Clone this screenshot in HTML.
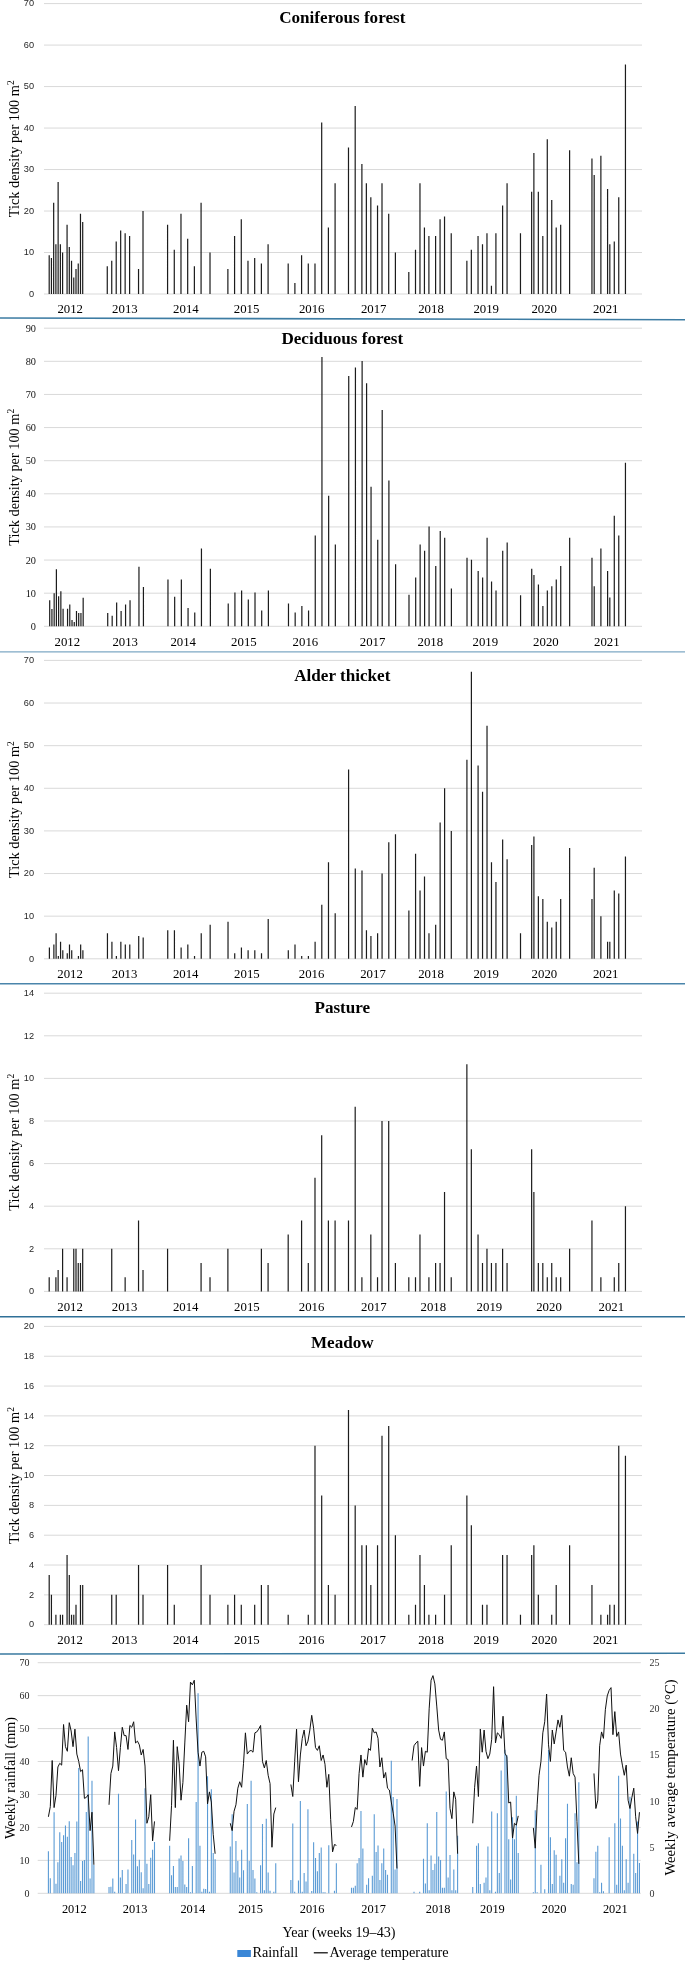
<!DOCTYPE html>
<html><head><meta charset="utf-8"><title>Tick density</title>
<style>html,body{margin:0;padding:0;background:#fff;}body{width:685px;height:1961px;overflow:hidden;}svg{display:block;will-change:transform;}</style>
</head><body>
<svg width="685" height="1961" viewBox="0 0 685 1961"><rect width="685" height="1961" fill="#fff"/><path d="M44 294H642 M44 252.51H642 M44 211.03H642 M44 169.54H642 M44 128.06H642 M44 86.57H642 M44 45.09H642 M44 3.6H642" stroke="#d9d9d9" stroke-width="1" fill="none"/><g font-family="'Liberation Sans', sans-serif" font-size="9.2" fill="#262626" text-anchor="end"><text x="34.0" y="296.79">0</text><text x="34.0" y="255.31">10</text><text x="34.0" y="213.82">20</text><text x="34.0" y="172.34">30</text><text x="34.0" y="130.85">40</text><text x="34.0" y="89.37">50</text><text x="34.0" y="47.88">60</text><text x="34.0" y="6.39">70</text></g><path d="M48.6 255.29h1.2V294h-1.2zM50.83 258.03h1.2V294h-1.2zM53.07 202.73h1.2V294h-1.2zM55.3 244.22h1.2V294h-1.2zM57.53 181.99h1.2V294h-1.2zM59.77 244.22h1.2V294h-1.2zM62 252.51h1.2V294h-1.2zM66.47 224.84h1.2V294h-1.2zM68.7 247h1.2V294h-1.2zM70.94 260.81h1.2V294h-1.2zM73.17 277.41h1.2V294h-1.2zM75.4 269.11h1.2V294h-1.2zM77.64 263.59h1.2V294h-1.2zM79.87 213.81h1.2V294h-1.2zM82.1 222.11h1.2V294h-1.2zM106.67 266.33h1.2V294h-1.2zM111.14 260.81h1.2V294h-1.2zM115.61 241.44h1.2V294h-1.2zM120.07 230.4h1.2V294h-1.2zM124.54 233.14h1.2V294h-1.2zM129.01 235.92h1.2V294h-1.2zM137.94 269.11h1.2V294h-1.2zM142.41 211.03h1.2V294h-1.2zM166.98 224.84h1.2V294h-1.2zM173.68 249.73h1.2V294h-1.2zM180.38 213.81h1.2V294h-1.2zM187.08 238.7h1.2V294h-1.2zM193.78 266.33h1.2V294h-1.2zM200.48 202.73h1.2V294h-1.2zM209.41 252.51h1.2V294h-1.2zM227.28 269.11h1.2V294h-1.2zM233.98 235.92h1.2V294h-1.2zM240.68 219.33h1.2V294h-1.2zM247.38 260.81h1.2V294h-1.2zM254.08 258.03h1.2V294h-1.2zM260.79 263.59h1.2V294h-1.2zM267.49 244.22h1.2V294h-1.2zM287.59 263.59h1.2V294h-1.2zM294.29 282.92h1.2V294h-1.2zM300.99 255.29h1.2V294h-1.2zM307.69 263.59h1.2V294h-1.2zM314.39 263.59h1.2V294h-1.2zM321.09 122.54h1.2V294h-1.2zM327.79 227.62h1.2V294h-1.2zM334.49 183.36h1.2V294h-1.2zM347.89 147.43h1.2V294h-1.2zM354.59 105.95h1.2V294h-1.2zM361.29 164.03h1.2V294h-1.2zM365.76 183.36h1.2V294h-1.2zM370.23 197.21h1.2V294h-1.2zM376.93 205.51h1.2V294h-1.2zM381.4 183.36h1.2V294h-1.2zM388.1 213.81h1.2V294h-1.2zM394.8 252.51h1.2V294h-1.2zM408.2 271.89h1.2V294h-1.2zM414.9 249.73h1.2V294h-1.2zM419.37 183.36h1.2V294h-1.2zM423.83 227.62h1.2V294h-1.2zM428.3 235.92h1.2V294h-1.2zM435 235.92h1.2V294h-1.2zM439.47 219.33h1.2V294h-1.2zM443.93 216.55h1.2V294h-1.2zM450.63 233.14h1.2V294h-1.2zM466.27 260.81h1.2V294h-1.2zM470.74 249.73h1.2V294h-1.2zM477.44 235.92h1.2V294h-1.2zM481.9 244.22h1.2V294h-1.2zM486.37 233.14h1.2V294h-1.2zM490.84 285.7h1.2V294h-1.2zM495.31 233.14h1.2V294h-1.2zM502.01 205.51h1.2V294h-1.2zM506.47 183.36h1.2V294h-1.2zM519.87 233.14h1.2V294h-1.2zM531.04 191.65h1.2V294h-1.2zM533.28 152.95h1.2V294h-1.2zM537.74 191.65h1.2V294h-1.2zM542.21 235.92h1.2V294h-1.2zM546.68 139.13h1.2V294h-1.2zM551.14 199.95h1.2V294h-1.2zM555.61 227.62h1.2V294h-1.2zM560.08 224.84h1.2V294h-1.2zM569.01 150.17h1.2V294h-1.2zM591.35 158.47h1.2V294h-1.2zM593.58 175.06h1.2V294h-1.2zM600.28 155.73h1.2V294h-1.2zM606.98 188.92h1.2V294h-1.2zM609.22 244.22h1.2V294h-1.2zM613.68 241.44h1.2V294h-1.2zM618.15 197.21h1.2V294h-1.2zM624.85 64.46h1.2V294h-1.2z" fill="#1c1c1c"/><text x="342.3" y="22.8" font-family="'Liberation Serif', serif" font-weight="bold" font-size="17.1" text-anchor="middle" fill="#000">Coniferous forest</text><text transform="translate(18.7 148.8) rotate(-90)" font-family="'Liberation Serif', serif" font-size="14.3" text-anchor="middle" fill="#000">Tick density per 100 m<tspan font-size="9.5" dy="-5">2</tspan></text><g font-family="'Liberation Serif', serif" font-size="12.8" text-anchor="middle" fill="#000"><text x="70.2" y="313.2">2012</text><text x="124.9" y="313.2">2013</text><text x="185.9" y="313.2">2014</text><text x="246.6" y="313.2">2015</text><text x="311.7" y="313.2">2016</text><text x="373.7" y="313.2">2017</text><text x="431.0" y="313.2">2018</text><text x="486.2" y="313.2">2019</text><text x="544.2" y="313.2">2020</text><text x="605.7" y="313.2">2021</text></g><path d="M44 626.3H642 M44 593.18H642 M44 560.06H642 M44 526.93H642 M44 493.81H642 M44 460.69H642 M44 427.57H642 M44 394.44H642 M44 361.32H642 M44 328.2H642" stroke="#d9d9d9" stroke-width="1" fill="none"/><g font-family="'Liberation Serif', serif" font-size="10.3" fill="#111" text-anchor="end"><text x="36.0" y="629.78">0</text><text x="36.0" y="596.66">10</text><text x="36.0" y="563.54">20</text><text x="36.0" y="530.41">30</text><text x="36.0" y="497.29">40</text><text x="36.0" y="464.17">50</text><text x="36.0" y="431.05">60</text><text x="36.0" y="397.93">70</text><text x="36.0" y="364.8">80</text><text x="36.0" y="331.68">90</text></g><path d="M49.1 600.13h1.2V626.3h-1.2zM51.33 609.08h1.2V626.3h-1.2zM53.56 593.18h1.2V626.3h-1.2zM55.79 569.33h1.2V626.3h-1.2zM58.03 596.16h1.2V626.3h-1.2zM60.26 591.19h1.2V626.3h-1.2zM62.49 608.75h1.2V626.3h-1.2zM66.95 608.75h1.2V626.3h-1.2zM69.18 604.44h1.2V626.3h-1.2zM71.42 620.01h1.2V626.3h-1.2zM73.65 621.99h1.2V626.3h-1.2zM75.88 611.06h1.2V626.3h-1.2zM78.11 613.05h1.2V626.3h-1.2zM80.34 613.05h1.2V626.3h-1.2zM82.57 597.81h1.2V626.3h-1.2zM107.12 613.05h1.2V626.3h-1.2zM111.58 615.7h1.2V626.3h-1.2zM116.05 602.45h1.2V626.3h-1.2zM120.51 611.06h1.2V626.3h-1.2zM124.97 604.44h1.2V626.3h-1.2zM129.44 600.13h1.2V626.3h-1.2zM138.36 566.68h1.2V626.3h-1.2zM142.83 586.88h1.2V626.3h-1.2zM167.37 579.6h1.2V626.3h-1.2zM174.07 596.82h1.2V626.3h-1.2zM180.76 579.6h1.2V626.3h-1.2zM187.46 608.08h1.2V626.3h-1.2zM194.15 612.39h1.2V626.3h-1.2zM200.85 548.46h1.2V626.3h-1.2zM209.77 568.67h1.2V626.3h-1.2zM227.63 603.45h1.2V626.3h-1.2zM234.32 592.52h1.2V626.3h-1.2zM241.02 590.53h1.2V626.3h-1.2zM247.71 599.47h1.2V626.3h-1.2zM254.41 592.52h1.2V626.3h-1.2zM261.1 610.4h1.2V626.3h-1.2zM267.8 590.53h1.2V626.3h-1.2zM287.88 603.45h1.2V626.3h-1.2zM294.57 612.39h1.2V626.3h-1.2zM301.27 606.1h1.2V626.3h-1.2zM307.96 610.4h1.2V626.3h-1.2zM314.66 535.55h1.2V626.3h-1.2zM321.35 357.02h1.2V626.3h-1.2zM328.05 495.8h1.2V626.3h-1.2zM334.74 544.49h1.2V626.3h-1.2zM348.13 375.9h1.2V626.3h-1.2zM354.83 367.62h1.2V626.3h-1.2zM361.52 360.99h1.2V626.3h-1.2zM365.99 383.18h1.2V626.3h-1.2zM370.45 486.86h1.2V626.3h-1.2zM377.14 539.85h1.2V626.3h-1.2zM381.61 410.01h1.2V626.3h-1.2zM388.3 480.56h1.2V626.3h-1.2zM395 564.36h1.2V626.3h-1.2zM408.39 594.83h1.2V626.3h-1.2zM415.08 577.61h1.2V626.3h-1.2zM419.54 544.49h1.2V626.3h-1.2zM424.01 550.78h1.2V626.3h-1.2zM428.47 526.6h1.2V626.3h-1.2zM435.16 566.02h1.2V626.3h-1.2zM439.63 530.91h1.2V626.3h-1.2zM444.09 537.86h1.2V626.3h-1.2zM450.79 588.54h1.2V626.3h-1.2zM466.41 557.74h1.2V626.3h-1.2zM470.87 559.72h1.2V626.3h-1.2zM477.57 570.99h1.2V626.3h-1.2zM482.03 577.61h1.2V626.3h-1.2zM486.49 537.86h1.2V626.3h-1.2zM490.95 581.58h1.2V626.3h-1.2zM495.42 590.53h1.2V626.3h-1.2zM502.11 550.78h1.2V626.3h-1.2zM506.58 542.5h1.2V626.3h-1.2zM519.97 595.17h1.2V626.3h-1.2zM531.12 568.67h1.2V626.3h-1.2zM533.35 574.96h1.2V626.3h-1.2zM537.82 584.57h1.2V626.3h-1.2zM542.28 606.1h1.2V626.3h-1.2zM546.74 590.53h1.2V626.3h-1.2zM551.21 586.22h1.2V626.3h-1.2zM555.67 579.6h1.2V626.3h-1.2zM560.13 566.02h1.2V626.3h-1.2zM569.06 537.86h1.2V626.3h-1.2zM591.38 557.74h1.2V626.3h-1.2zM593.61 586.22h1.2V626.3h-1.2zM600.3 548.46h1.2V626.3h-1.2zM607 570.99h1.2V626.3h-1.2zM609.23 597.48h1.2V626.3h-1.2zM613.69 515.67h1.2V626.3h-1.2zM618.16 535.55h1.2V626.3h-1.2zM624.85 462.68h1.2V626.3h-1.2z" fill="#1c1c1c"/><text x="342.3" y="344.0" font-family="'Liberation Serif', serif" font-weight="bold" font-size="17.1" text-anchor="middle" fill="#000">Deciduous forest</text><text transform="translate(18.7 477.25) rotate(-90)" font-family="'Liberation Serif', serif" font-size="14.3" text-anchor="middle" fill="#000">Tick density per 100 m<tspan font-size="9.5" dy="-5">2</tspan></text><g font-family="'Liberation Serif', serif" font-size="12.8" text-anchor="middle" fill="#000"><text x="67.3" y="645.6">2012</text><text x="125.2" y="645.6">2013</text><text x="183.2" y="645.6">2014</text><text x="243.9" y="645.6">2015</text><text x="305.4" y="645.6">2016</text><text x="372.6" y="645.6">2017</text><text x="430.3" y="645.6">2018</text><text x="485.3" y="645.6">2019</text><text x="545.9" y="645.6">2020</text><text x="606.8" y="645.6">2021</text></g><path d="M44 958.8H642 M44 916.17H642 M44 873.54H642 M44 830.91H642 M44 788.29H642 M44 745.66H642 M44 703.03H642 M44 660.4H642" stroke="#d9d9d9" stroke-width="1" fill="none"/><g font-family="'Liberation Sans', sans-serif" font-size="9.2" fill="#262626" text-anchor="end"><text x="34.0" y="961.59">0</text><text x="34.0" y="918.97">10</text><text x="34.0" y="876.34">20</text><text x="34.0" y="833.71">30</text><text x="34.0" y="791.08">40</text><text x="34.0" y="748.45">50</text><text x="34.0" y="705.82">60</text><text x="34.0" y="663.19">70</text></g><path d="M48.8 947.42h1.2V958.8h-1.2zM53.27 944.6h1.2V958.8h-1.2zM55.5 933.22h1.2V958.8h-1.2zM57.73 955.94h1.2V958.8h-1.2zM59.96 941.75h1.2V958.8h-1.2zM62.2 950.27h1.2V958.8h-1.2zM66.66 953.13h1.2V958.8h-1.2zM68.89 944.6h1.2V958.8h-1.2zM71.13 950.27h1.2V958.8h-1.2zM77.83 955.94h1.2V958.8h-1.2zM80.06 944.6h1.2V958.8h-1.2zM82.29 950.27h1.2V958.8h-1.2zM106.85 933.22h1.2V958.8h-1.2zM111.32 941.75h1.2V958.8h-1.2zM115.78 955.94h1.2V958.8h-1.2zM120.25 941.75h1.2V958.8h-1.2zM124.71 944.6h1.2V958.8h-1.2zM129.18 944.6h1.2V958.8h-1.2zM138.11 936.08h1.2V958.8h-1.2zM142.58 937.49h1.2V958.8h-1.2zM167.14 930.37h1.2V958.8h-1.2zM173.83 930.37h1.2V958.8h-1.2zM180.53 947.42h1.2V958.8h-1.2zM187.23 944.6h1.2V958.8h-1.2zM193.93 955.94h1.2V958.8h-1.2zM200.63 933.22h1.2V958.8h-1.2zM209.56 924.7h1.2V958.8h-1.2zM227.42 921.84h1.2V958.8h-1.2zM234.12 953.13h1.2V958.8h-1.2zM240.82 947.42h1.2V958.8h-1.2zM247.51 950.27h1.2V958.8h-1.2zM254.21 950.27h1.2V958.8h-1.2zM260.91 953.13h1.2V958.8h-1.2zM267.61 919.03h1.2V958.8h-1.2zM287.7 950.27h1.2V958.8h-1.2zM294.4 944.6h1.2V958.8h-1.2zM301.1 955.94h1.2V958.8h-1.2zM307.8 955.94h1.2V958.8h-1.2zM314.5 941.75h1.2V958.8h-1.2zM321.2 904.79h1.2V958.8h-1.2zM327.89 862.16h1.2V958.8h-1.2zM334.59 913.32h1.2V958.8h-1.2zM347.99 769.53h1.2V958.8h-1.2zM354.69 868.43h1.2V958.8h-1.2zM361.39 870.56h1.2V958.8h-1.2zM365.85 930.37h1.2V958.8h-1.2zM370.32 936.08h1.2V958.8h-1.2zM377.01 933.22h1.2V958.8h-1.2zM381.48 873.54h1.2V958.8h-1.2zM388.18 842.3h1.2V958.8h-1.2zM394.88 834.32h1.2V958.8h-1.2zM408.27 910.5h1.2V958.8h-1.2zM414.97 853.64h1.2V958.8h-1.2zM419.44 890.59h1.2V958.8h-1.2zM423.9 876.4h1.2V958.8h-1.2zM428.37 933.22h1.2V958.8h-1.2zM435.07 924.7h1.2V958.8h-1.2zM439.53 822.39h1.2V958.8h-1.2zM444 788.29h1.2V958.8h-1.2zM450.7 830.91h1.2V958.8h-1.2zM466.32 759.85h1.2V958.8h-1.2zM470.79 671.78h1.2V958.8h-1.2zM477.49 765.56h1.2V958.8h-1.2zM481.95 791.7h1.2V958.8h-1.2zM486.42 725.75h1.2V958.8h-1.2zM490.88 862.16h1.2V958.8h-1.2zM495.35 882.07h1.2V958.8h-1.2zM502.05 839.44h1.2V958.8h-1.2zM506.51 859.35h1.2V958.8h-1.2zM519.91 933.22h1.2V958.8h-1.2zM531.07 845.11h1.2V958.8h-1.2zM533.31 836.58h1.2V958.8h-1.2zM537.77 896.26h1.2V958.8h-1.2zM542.24 899.12h1.2V958.8h-1.2zM546.7 921.84h1.2V958.8h-1.2zM551.17 927.55h1.2V958.8h-1.2zM555.63 921.84h1.2V958.8h-1.2zM560.1 899.12h1.2V958.8h-1.2zM569.03 847.97h1.2V958.8h-1.2zM591.36 899.12h1.2V958.8h-1.2zM593.59 867.87h1.2V958.8h-1.2zM600.29 916.17h1.2V958.8h-1.2zM606.99 941.75h1.2V958.8h-1.2zM609.22 941.75h1.2V958.8h-1.2zM613.69 890.59h1.2V958.8h-1.2zM618.15 893.45h1.2V958.8h-1.2zM624.85 856.49h1.2V958.8h-1.2z" fill="#1c1c1c"/><text x="342.3" y="681.0" font-family="'Liberation Serif', serif" font-weight="bold" font-size="17.1" text-anchor="middle" fill="#000">Alder thicket</text><text transform="translate(18.7 809.6) rotate(-90)" font-family="'Liberation Serif', serif" font-size="14.3" text-anchor="middle" fill="#000">Tick density per 100 m<tspan font-size="9.5" dy="-5">2</tspan></text><g font-family="'Liberation Serif', serif" font-size="12.8" text-anchor="middle" fill="#000"><text x="70.1" y="978.0">2012</text><text x="124.6" y="978.0">2013</text><text x="185.7" y="978.0">2014</text><text x="246.9" y="978.0">2015</text><text x="311.6" y="978.0">2016</text><text x="373.0" y="978.0">2017</text><text x="431.0" y="978.0">2018</text><text x="486.2" y="978.0">2019</text><text x="544.4" y="978.0">2020</text><text x="605.7" y="978.0">2021</text></g><path d="M44 1291.4H642 M44 1248.8H642 M44 1206.2H642 M44 1163.6H642 M44 1121H642 M44 1078.4H642 M44 1035.8H642 M44 993.2H642" stroke="#d9d9d9" stroke-width="1" fill="none"/><g font-family="'Liberation Sans', sans-serif" font-size="9.2" fill="#262626" text-anchor="end"><text x="34.0" y="1294.19">0</text><text x="34.0" y="1251.59">2</text><text x="34.0" y="1208.99">4</text><text x="34.0" y="1166.39">6</text><text x="34.0" y="1123.79">8</text><text x="34.0" y="1081.19">10</text><text x="34.0" y="1038.59">12</text><text x="34.0" y="995.99">14</text></g><path d="M48.6 1277.13h1.2V1291.4h-1.2zM55.3 1277.13h1.2V1291.4h-1.2zM57.53 1270.1h1.2V1291.4h-1.2zM62 1248.8h1.2V1291.4h-1.2zM66.47 1277.13h1.2V1291.4h-1.2zM73.17 1248.8h1.2V1291.4h-1.2zM75.4 1248.8h1.2V1291.4h-1.2zM77.64 1263.07h1.2V1291.4h-1.2zM79.87 1263.07h1.2V1291.4h-1.2zM82.1 1248.8h1.2V1291.4h-1.2zM111.14 1248.8h1.2V1291.4h-1.2zM124.54 1277.13h1.2V1291.4h-1.2zM137.94 1220.47h1.2V1291.4h-1.2zM142.41 1270.1h1.2V1291.4h-1.2zM166.98 1248.8h1.2V1291.4h-1.2zM200.48 1263.07h1.2V1291.4h-1.2zM209.41 1277.13h1.2V1291.4h-1.2zM227.28 1248.8h1.2V1291.4h-1.2zM260.79 1248.8h1.2V1291.4h-1.2zM267.49 1263.07h1.2V1291.4h-1.2zM287.59 1234.53h1.2V1291.4h-1.2zM300.99 1220.47h1.2V1291.4h-1.2zM307.69 1263.07h1.2V1291.4h-1.2zM314.39 1177.87h1.2V1291.4h-1.2zM321.09 1135.27h1.2V1291.4h-1.2zM327.79 1220.47h1.2V1291.4h-1.2zM334.49 1220.47h1.2V1291.4h-1.2zM347.89 1220.47h1.2V1291.4h-1.2zM354.59 1106.73h1.2V1291.4h-1.2zM361.29 1277.13h1.2V1291.4h-1.2zM370.23 1234.53h1.2V1291.4h-1.2zM376.93 1277.13h1.2V1291.4h-1.2zM381.4 1121h1.2V1291.4h-1.2zM388.1 1121h1.2V1291.4h-1.2zM394.8 1263.07h1.2V1291.4h-1.2zM408.2 1277.13h1.2V1291.4h-1.2zM414.9 1277.13h1.2V1291.4h-1.2zM419.37 1234.53h1.2V1291.4h-1.2zM428.3 1277.13h1.2V1291.4h-1.2zM435 1263.07h1.2V1291.4h-1.2zM439.47 1263.07h1.2V1291.4h-1.2zM443.93 1191.93h1.2V1291.4h-1.2zM450.63 1277.13h1.2V1291.4h-1.2zM466.27 1064.13h1.2V1291.4h-1.2zM470.74 1149.33h1.2V1291.4h-1.2zM477.44 1234.53h1.2V1291.4h-1.2zM481.9 1263.07h1.2V1291.4h-1.2zM486.37 1248.8h1.2V1291.4h-1.2zM490.84 1263.07h1.2V1291.4h-1.2zM495.31 1263.07h1.2V1291.4h-1.2zM502.01 1248.8h1.2V1291.4h-1.2zM506.47 1263.07h1.2V1291.4h-1.2zM531.04 1149.33h1.2V1291.4h-1.2zM533.28 1191.93h1.2V1291.4h-1.2zM537.74 1263.07h1.2V1291.4h-1.2zM542.21 1263.07h1.2V1291.4h-1.2zM546.68 1277.13h1.2V1291.4h-1.2zM551.14 1263.07h1.2V1291.4h-1.2zM555.61 1277.13h1.2V1291.4h-1.2zM560.08 1277.13h1.2V1291.4h-1.2zM569.01 1248.8h1.2V1291.4h-1.2zM591.35 1220.47h1.2V1291.4h-1.2zM600.28 1277.13h1.2V1291.4h-1.2zM613.68 1277.13h1.2V1291.4h-1.2zM618.15 1263.07h1.2V1291.4h-1.2zM624.85 1206.2h1.2V1291.4h-1.2z" fill="#1c1c1c"/><text x="342.3" y="1013.0" font-family="'Liberation Serif', serif" font-weight="bold" font-size="17.1" text-anchor="middle" fill="#000">Pasture</text><text transform="translate(18.7 1142.3) rotate(-90)" font-family="'Liberation Serif', serif" font-size="14.3" text-anchor="middle" fill="#000">Tick density per 100 m<tspan font-size="9.5" dy="-5">2</tspan></text><g font-family="'Liberation Serif', serif" font-size="12.8" text-anchor="middle" fill="#000"><text x="70.1" y="1311.0">2012</text><text x="124.6" y="1311.0">2013</text><text x="185.7" y="1311.0">2014</text><text x="246.9" y="1311.0">2015</text><text x="311.6" y="1311.0">2016</text><text x="373.8" y="1311.0">2017</text><text x="433.3" y="1311.0">2018</text><text x="489.4" y="1311.0">2019</text><text x="549.0" y="1311.0">2020</text><text x="611.3" y="1311.0">2021</text></g><path d="M44 1624.7H642 M44 1594.87H642 M44 1565.04H642 M44 1535.21H642 M44 1505.38H642 M44 1475.55H642 M44 1445.72H642 M44 1415.89H642 M44 1386.06H642 M44 1356.23H642 M44 1326.4H642" stroke="#d9d9d9" stroke-width="1" fill="none"/><g font-family="'Liberation Sans', sans-serif" font-size="9.2" fill="#262626" text-anchor="end"><text x="34.0" y="1627.49">0</text><text x="34.0" y="1597.66">2</text><text x="34.0" y="1567.83">4</text><text x="34.0" y="1538">6</text><text x="34.0" y="1508.17">8</text><text x="34.0" y="1478.34">10</text><text x="34.0" y="1448.51">12</text><text x="34.0" y="1418.68">14</text><text x="34.0" y="1388.85">16</text><text x="34.0" y="1359.02">18</text><text x="34.0" y="1329.19">20</text></g><path d="M48.6 1575.03h1.2V1624.7h-1.2zM50.83 1594.87h1.2V1624.7h-1.2zM55.3 1614.71h1.2V1624.7h-1.2zM59.77 1614.71h1.2V1624.7h-1.2zM62 1614.71h1.2V1624.7h-1.2zM66.47 1555.05h1.2V1624.7h-1.2zM68.7 1575.03h1.2V1624.7h-1.2zM70.94 1614.71h1.2V1624.7h-1.2zM73.17 1614.71h1.2V1624.7h-1.2zM75.4 1604.86h1.2V1624.7h-1.2zM79.87 1584.88h1.2V1624.7h-1.2zM82.1 1584.88h1.2V1624.7h-1.2zM111.14 1594.87h1.2V1624.7h-1.2zM115.61 1594.87h1.2V1624.7h-1.2zM137.94 1565.04h1.2V1624.7h-1.2zM142.41 1594.87h1.2V1624.7h-1.2zM166.98 1565.04h1.2V1624.7h-1.2zM173.68 1604.86h1.2V1624.7h-1.2zM200.48 1565.04h1.2V1624.7h-1.2zM209.41 1594.87h1.2V1624.7h-1.2zM227.28 1604.86h1.2V1624.7h-1.2zM233.98 1594.87h1.2V1624.7h-1.2zM240.68 1604.86h1.2V1624.7h-1.2zM254.08 1604.86h1.2V1624.7h-1.2zM260.79 1584.88h1.2V1624.7h-1.2zM267.49 1584.88h1.2V1624.7h-1.2zM287.59 1614.71h1.2V1624.7h-1.2zM307.69 1614.71h1.2V1624.7h-1.2zM314.39 1445.72h1.2V1624.7h-1.2zM321.09 1495.39h1.2V1624.7h-1.2zM327.79 1584.88h1.2V1624.7h-1.2zM334.49 1594.87h1.2V1624.7h-1.2zM347.89 1409.92h1.2V1624.7h-1.2zM354.59 1505.38h1.2V1624.7h-1.2zM361.29 1545.2h1.2V1624.7h-1.2zM365.76 1545.2h1.2V1624.7h-1.2zM370.23 1584.88h1.2V1624.7h-1.2zM376.93 1545.2h1.2V1624.7h-1.2zM381.4 1435.73h1.2V1624.7h-1.2zM388.1 1425.88h1.2V1624.7h-1.2zM394.8 1535.21h1.2V1624.7h-1.2zM408.2 1614.71h1.2V1624.7h-1.2zM414.9 1604.86h1.2V1624.7h-1.2zM419.37 1555.05h1.2V1624.7h-1.2zM423.83 1584.88h1.2V1624.7h-1.2zM428.3 1614.71h1.2V1624.7h-1.2zM435 1614.71h1.2V1624.7h-1.2zM443.93 1594.87h1.2V1624.7h-1.2zM450.63 1545.2h1.2V1624.7h-1.2zM466.27 1495.39h1.2V1624.7h-1.2zM470.74 1525.22h1.2V1624.7h-1.2zM481.9 1604.86h1.2V1624.7h-1.2zM486.37 1604.86h1.2V1624.7h-1.2zM502.01 1555.05h1.2V1624.7h-1.2zM506.47 1555.05h1.2V1624.7h-1.2zM519.87 1614.71h1.2V1624.7h-1.2zM531.04 1555.05h1.2V1624.7h-1.2zM533.28 1545.2h1.2V1624.7h-1.2zM537.74 1594.87h1.2V1624.7h-1.2zM551.14 1614.71h1.2V1624.7h-1.2zM555.61 1584.88h1.2V1624.7h-1.2zM569.01 1545.2h1.2V1624.7h-1.2zM591.35 1584.88h1.2V1624.7h-1.2zM600.28 1614.71h1.2V1624.7h-1.2zM606.98 1614.71h1.2V1624.7h-1.2zM609.22 1604.86h1.2V1624.7h-1.2zM613.68 1604.86h1.2V1624.7h-1.2zM618.15 1445.72h1.2V1624.7h-1.2zM624.85 1455.71h1.2V1624.7h-1.2z" fill="#1c1c1c"/><text x="342.3" y="1347.5" font-family="'Liberation Serif', serif" font-weight="bold" font-size="17.1" text-anchor="middle" fill="#000">Meadow</text><text transform="translate(18.7 1475.55) rotate(-90)" font-family="'Liberation Serif', serif" font-size="14.3" text-anchor="middle" fill="#000">Tick density per 100 m<tspan font-size="9.5" dy="-5">2</tspan></text><g font-family="'Liberation Serif', serif" font-size="12.8" text-anchor="middle" fill="#000"><text x="70.1" y="1644.0">2012</text><text x="124.6" y="1644.0">2013</text><text x="185.7" y="1644.0">2014</text><text x="246.9" y="1644.0">2015</text><text x="311.6" y="1644.0">2016</text><text x="373.0" y="1644.0">2017</text><text x="431.0" y="1644.0">2018</text><text x="486.2" y="1644.0">2019</text><text x="544.4" y="1644.0">2020</text><text x="605.7" y="1644.0">2021</text></g><line x1="0" y1="318.0" x2="685" y2="319.7" stroke="#3d7ca3" stroke-width="1.6"/><line x1="0" y1="651.9" x2="685" y2="651.9" stroke="#7ea8c4" stroke-width="1.4"/><line x1="0" y1="983.7" x2="685" y2="983.7" stroke="#4a85ab" stroke-width="1.5"/><line x1="0" y1="1316.8" x2="685" y2="1316.8" stroke="#2f7098" stroke-width="1.5"/><line x1="0" y1="1654.0" x2="685" y2="1653.2" stroke="#3a7aa0" stroke-width="1.5"/><path d="M37.7 1893.3H640.8 M37.7 1860.36H640.8 M37.7 1827.41H640.8 M37.7 1794.47H640.8 M37.7 1761.53H640.8 M37.7 1728.59H640.8 M37.7 1695.64H640.8 M37.7 1662.7H640.8" stroke="#d9d9d9" stroke-width="1" fill="none"/><g font-family="'Liberation Serif', serif" font-size="10" fill="#262626" text-anchor="end"><text x="29.5" y="1896.7">0</text><text x="29.5" y="1863.76">10</text><text x="29.5" y="1830.81">20</text><text x="29.5" y="1797.87">30</text><text x="29.5" y="1764.93">40</text><text x="29.5" y="1731.99">50</text><text x="29.5" y="1699.04">60</text><text x="29.5" y="1666.1">70</text></g><g font-family="'Liberation Serif', serif" font-size="10" fill="#333" text-anchor="start"><text x="649.4" y="1896.8">0</text><text x="649.4" y="1850.66">5</text><text x="649.4" y="1804.52">10</text><text x="649.4" y="1758.38">15</text><text x="649.4" y="1712.24">20</text><text x="649.4" y="1666.1">25</text></g><path d="M47.85 1851.13h1.1V1893.3h-1.1zM49.75 1878.15h1.1V1893.3h-1.1zM53.54 1812.26h1.1V1893.3h-1.1zM55.43 1883.75h1.1V1893.3h-1.1zM57.33 1862.33h1.1V1893.3h-1.1zM59.22 1832.36h1.1V1893.3h-1.1zM61.12 1841.91h1.1V1893.3h-1.1zM63.01 1835.32h1.1V1893.3h-1.1zM64.91 1825.44h1.1V1893.3h-1.1zM66.8 1836.64h1.1V1893.3h-1.1zM68.7 1821.16h1.1V1893.3h-1.1zM70.59 1857.06h1.1V1893.3h-1.1zM72.48 1865.3h1.1V1893.3h-1.1zM74.38 1853.11h1.1V1893.3h-1.1zM76.28 1821.48h1.1V1893.3h-1.1zM78.17 1768.12h1.1V1893.3h-1.1zM80.07 1881.11h1.1V1893.3h-1.1zM81.96 1861.02h1.1V1893.3h-1.1zM83.86 1860.03h1.1V1893.3h-1.1zM85.75 1811.93h1.1V1893.3h-1.1zM87.64 1736.49h1.1V1893.3h-1.1zM89.54 1878.48h1.1V1893.3h-1.1zM91.44 1780.64h1.1V1893.3h-1.1zM93.33 1864.97h1.1V1893.3h-1.1zM108.47 1887.04h1.1V1893.3h-1.1zM110.36 1886.71h1.1V1893.3h-1.1zM112.26 1878.48h1.1V1893.3h-1.1zM114.16 1891.65h1.1V1893.3h-1.1zM117.94 1793.81h1.1V1893.3h-1.1zM119.84 1877.49h1.1V1893.3h-1.1zM121.73 1869.91h1.1V1893.3h-1.1zM123.63 1892.97h1.1V1893.3h-1.1zM125.52 1884.08h1.1V1893.3h-1.1zM127.42 1869.58h1.1V1893.3h-1.1zM131.21 1839.93h1.1V1893.3h-1.1zM133.1 1854.43h1.1V1893.3h-1.1zM135 1819.51h1.1V1893.3h-1.1zM136.89 1866.29h1.1V1893.3h-1.1zM138.79 1859.7h1.1V1893.3h-1.1zM140.69 1872.22h1.1V1893.3h-1.1zM142.58 1888.36h1.1V1893.3h-1.1zM144.47 1788.21h1.1V1893.3h-1.1zM146.37 1863.65h1.1V1893.3h-1.1zM148.26 1884.08h1.1V1893.3h-1.1zM150.16 1857.72h1.1V1893.3h-1.1zM152.05 1849.82h1.1V1893.3h-1.1zM153.95 1841.91h1.1V1893.3h-1.1zM169.09 1845.86h1.1V1893.3h-1.1zM170.98 1875.18h1.1V1893.3h-1.1zM172.88 1865.96h1.1V1893.3h-1.1zM174.77 1887.04h1.1V1893.3h-1.1zM176.67 1887.04h1.1V1893.3h-1.1zM178.56 1858.38h1.1V1893.3h-1.1zM180.46 1855.42h1.1V1893.3h-1.1zM182.35 1861.02h1.1V1893.3h-1.1zM184.25 1884.41h1.1V1893.3h-1.1zM186.14 1887.04h1.1V1893.3h-1.1zM188.04 1838.29h1.1V1893.3h-1.1zM189.93 1892.31h1.1V1893.3h-1.1zM191.83 1865.96h1.1V1893.3h-1.1zM195.62 1802.05h1.1V1893.3h-1.1zM197.51 1693.34h1.1V1893.3h-1.1zM199.41 1845.86h1.1V1893.3h-1.1zM201.3 1891.65h1.1V1893.3h-1.1zM203.2 1888.69h1.1V1893.3h-1.1zM205.09 1889.02h1.1V1893.3h-1.1zM206.99 1776.35h1.1V1893.3h-1.1zM208.88 1891.65h1.1V1893.3h-1.1zM210.78 1789.2h1.1V1893.3h-1.1zM212.67 1853.11h1.1V1893.3h-1.1zM214.57 1859.37h1.1V1893.3h-1.1zM229.71 1846.52h1.1V1893.3h-1.1zM231.6 1814.24h1.1V1893.3h-1.1zM233.5 1872.55h1.1V1893.3h-1.1zM235.39 1840.92h1.1V1893.3h-1.1zM237.29 1861.02h1.1V1893.3h-1.1zM239.18 1877.49h1.1V1893.3h-1.1zM241.08 1849.82h1.1V1893.3h-1.1zM242.97 1870.24h1.1V1893.3h-1.1zM246.76 1804.02h1.1V1893.3h-1.1zM248.66 1861.02h1.1V1893.3h-1.1zM250.55 1780.64h1.1V1893.3h-1.1zM252.45 1869.91h1.1V1893.3h-1.1zM254.34 1878.48h1.1V1893.3h-1.1zM256.24 1892.31h1.1V1893.3h-1.1zM260.03 1865.3h1.1V1893.3h-1.1zM261.93 1824.12h1.1V1893.3h-1.1zM263.82 1890.34h1.1V1893.3h-1.1zM265.71 1818.85h1.1V1893.3h-1.1zM267.61 1872.55h1.1V1893.3h-1.1zM269.5 1890.66h1.1V1893.3h-1.1zM273.29 1891.65h1.1V1893.3h-1.1zM275.19 1863.32h1.1V1893.3h-1.1zM290.33 1880.12h1.1V1893.3h-1.1zM292.22 1823.46h1.1V1893.3h-1.1zM294.12 1891.65h1.1V1893.3h-1.1zM297.91 1880.45h1.1V1893.3h-1.1zM299.81 1801.06h1.1V1893.3h-1.1zM301.7 1891.65h1.1V1893.3h-1.1zM303.59 1872.88h1.1V1893.3h-1.1zM305.49 1881.44h1.1V1893.3h-1.1zM307.38 1809.3h1.1V1893.3h-1.1zM311.18 1890.99h1.1V1893.3h-1.1zM313.07 1842.24h1.1V1893.3h-1.1zM314.96 1858.05h1.1V1893.3h-1.1zM316.86 1871.23h1.1V1893.3h-1.1zM318.75 1853.11h1.1V1893.3h-1.1zM320.65 1847.51h1.1V1893.3h-1.1zM322.55 1892.31h1.1V1893.3h-1.1zM324.44 1892.31h1.1V1893.3h-1.1zM328.23 1845.2h1.1V1893.3h-1.1zM333.91 1890.66h1.1V1893.3h-1.1zM335.81 1863.32h1.1V1893.3h-1.1zM350.95 1887.7h1.1V1893.3h-1.1zM352.84 1887.7h1.1V1893.3h-1.1zM354.74 1885.72h1.1V1893.3h-1.1zM356.63 1863.32h1.1V1893.3h-1.1zM358.53 1858.05h1.1V1893.3h-1.1zM360.42 1810.94h1.1V1893.3h-1.1zM362.32 1848.5h1.1V1893.3h-1.1zM364.21 1892.97h1.1V1893.3h-1.1zM366.11 1884.73h1.1V1893.3h-1.1zM368 1878.15h1.1V1893.3h-1.1zM371.79 1875.84h1.1V1893.3h-1.1zM373.69 1814.24h1.1V1893.3h-1.1zM375.58 1852.12h1.1V1893.3h-1.1zM377.48 1845.53h1.1V1893.3h-1.1zM379.37 1880.12h1.1V1893.3h-1.1zM381.27 1863.32h1.1V1893.3h-1.1zM383.16 1848.5h1.1V1893.3h-1.1zM385.06 1869.91h1.1V1893.3h-1.1zM386.95 1874.85h1.1V1893.3h-1.1zM390.74 1760.87h1.1V1893.3h-1.1zM392.64 1797.11h1.1V1893.3h-1.1zM394.53 1869.58h1.1V1893.3h-1.1zM396.43 1799.08h1.1V1893.3h-1.1zM413.46 1891.65h1.1V1893.3h-1.1zM419.15 1891.65h1.1V1893.3h-1.1zM422.94 1858.71h1.1V1893.3h-1.1zM424.83 1883.42h1.1V1893.3h-1.1zM426.73 1823.13h1.1V1893.3h-1.1zM428.62 1890.34h1.1V1893.3h-1.1zM430.52 1855.42h1.1V1893.3h-1.1zM432.41 1869.91h1.1V1893.3h-1.1zM434.31 1863.65h1.1V1893.3h-1.1zM436.2 1811.93h1.1V1893.3h-1.1zM438.1 1856.4h1.1V1893.3h-1.1zM439.99 1860.03h1.1V1893.3h-1.1zM441.89 1887.7h1.1V1893.3h-1.1zM443.78 1887.7h1.1V1893.3h-1.1zM445.68 1791.51h1.1V1893.3h-1.1zM447.57 1877.49h1.1V1893.3h-1.1zM449.47 1855.09h1.1V1893.3h-1.1zM451.36 1890.34h1.1V1893.3h-1.1zM453.26 1869.58h1.1V1893.3h-1.1zM455.15 1890.34h1.1V1893.3h-1.1zM457.05 1835.65h1.1V1893.3h-1.1zM472.19 1887.04h1.1V1893.3h-1.1zM475.98 1845.86h1.1V1893.3h-1.1zM477.87 1843.23h1.1V1893.3h-1.1zM479.77 1884.08h1.1V1893.3h-1.1zM483.56 1882.76h1.1V1893.3h-1.1zM485.45 1877.49h1.1V1893.3h-1.1zM487.35 1846.52h1.1V1893.3h-1.1zM489.24 1890.34h1.1V1893.3h-1.1zM491.14 1811.6h1.1V1893.3h-1.1zM494.93 1891.65h1.1V1893.3h-1.1zM496.82 1813.25h1.1V1893.3h-1.1zM498.72 1872.88h1.1V1893.3h-1.1zM500.61 1770.42h1.1V1893.3h-1.1zM504.4 1749.67h1.1V1893.3h-1.1zM506.3 1754.94h1.1V1893.3h-1.1zM508.19 1839.27h1.1V1893.3h-1.1zM510.09 1879.46h1.1V1893.3h-1.1zM511.98 1817.2h1.1V1893.3h-1.1zM513.88 1839.27h1.1V1893.3h-1.1zM515.77 1795.79h1.1V1893.3h-1.1zM517.67 1853.11h1.1V1893.3h-1.1zM532.81 1892.31h1.1V1893.3h-1.1zM534.71 1810.28h1.1V1893.3h-1.1zM536.6 1892.31h1.1V1893.3h-1.1zM540.39 1864.64h1.1V1893.3h-1.1zM544.18 1889.35h1.1V1893.3h-1.1zM547.97 1750h1.1V1893.3h-1.1zM549.87 1837.3h1.1V1893.3h-1.1zM551.76 1884.08h1.1V1893.3h-1.1zM553.66 1850.14h1.1V1893.3h-1.1zM555.55 1854.76h1.1V1893.3h-1.1zM559.34 1875.84h1.1V1893.3h-1.1zM561.24 1859.37h1.1V1893.3h-1.1zM563.13 1882.76h1.1V1893.3h-1.1zM565.03 1838.29h1.1V1893.3h-1.1zM566.92 1803.7h1.1V1893.3h-1.1zM570.71 1884.08h1.1V1893.3h-1.1zM572.61 1884.73h1.1V1893.3h-1.1zM574.5 1813.25h1.1V1893.3h-1.1zM576.4 1862.33h1.1V1893.3h-1.1zM578.29 1782.28h1.1V1893.3h-1.1zM593.43 1878.15h1.1V1893.3h-1.1zM595.32 1851.79h1.1V1893.3h-1.1zM597.22 1845.86h1.1V1893.3h-1.1zM599.11 1892.31h1.1V1893.3h-1.1zM601.01 1882.76h1.1V1893.3h-1.1zM602.9 1891.32h1.1V1893.3h-1.1zM608.59 1837.3h1.1V1893.3h-1.1zM614.27 1823.13h1.1V1893.3h-1.1zM616.17 1884.73h1.1V1893.3h-1.1zM618.06 1775.69h1.1V1893.3h-1.1zM619.96 1818.52h1.1V1893.3h-1.1zM621.85 1845.86h1.1V1893.3h-1.1zM623.75 1890.34h1.1V1893.3h-1.1zM625.64 1859.37h1.1V1893.3h-1.1zM627.54 1882.76h1.1V1893.3h-1.1zM629.43 1796.78h1.1V1893.3h-1.1zM633.22 1853.77h1.1V1893.3h-1.1zM635.12 1872.88h1.1V1893.3h-1.1zM637.01 1821.48h1.1V1893.3h-1.1zM638.91 1862.99h1.1V1893.3h-1.1z" fill="#5b9bd5"/><polyline points="48.4,1816.81 50.3,1806.66 52.19,1760.52 54.09,1807.58 55.98,1795.58 57.88,1766.98 59.77,1763.29 61.66,1765.13 63.56,1724.53 65.45,1746.67 67.35,1751.29 69.25,1722.68 71.14,1730.99 73.03,1746.67 74.93,1729.14 76.83,1754.06 78.72,1761.44 80.62,1771.59 82.51,1769.74 84.41,1798.35 86.3,1797.43 88.19,1794.66 90.09,1830.65 91.98,1812.19 93.88,1864.79" fill="none" stroke="#111" stroke-width="1.0" stroke-linejoin="round"/><polyline points="109.02,1804.81 110.91,1773.44 112.81,1766.05 114.7,1731.91 116.6,1747.6 118.49,1770.67 120.39,1747.6 122.28,1727.3 124.18,1735.6 126.07,1735.6 127.97,1749.44 129.87,1725.45 131.76,1727.3 133.66,1721.76 135.55,1742.98 137.44,1741.14 139.34,1744.83 141.24,1754.98 143.13,1749.44 145.03,1766.05 146.92,1823.27 148.81,1816.81 150.71,1794.66 152.6,1840.8 154.5,1821.42" fill="none" stroke="#111" stroke-width="1.0" stroke-linejoin="round"/><polyline points="169.64,1840.8 171.53,1805.73 173.43,1740.22 175.32,1807.58 177.22,1746.67 179.11,1763.29 181.01,1800.2 182.9,1782.66 184.8,1742.98 186.69,1705.15 188.59,1721.76 190.48,1682.08 192.38,1684.85 194.27,1680.23 196.17,1718.99 198.06,1752.21 199.96,1766.05 201.85,1752.21 203.75,1751.29 205.64,1756.83 207.54,1803.89 209.44,1791.89 211.33,1802.04 213.22,1834.34 215.12,1853.72" fill="none" stroke="#111" stroke-width="1.0" stroke-linejoin="round"/><polyline points="230.26,1823.27 232.16,1830.65 234.05,1811.27 235.94,1804.81 237.84,1788.2 239.73,1781.74 241.63,1787.28 243.52,1763.29 245.42,1732.83 247.31,1754.06 249.21,1751.29 251.1,1750.37 253,1752.21 254.89,1732.83 256.79,1731.91 258.69,1729.14 260.58,1725.45 262.48,1761.44 264.37,1767.9 266.26,1760.52 268.16,1775.28 270.06,1783.59 271.95,1847.26 273.84,1814.04 275.74,1807.58" fill="none" stroke="#111" stroke-width="1.0" stroke-linejoin="round"/><polyline points="290.88,1784.51 292.77,1796.51 294.67,1761.44 296.56,1729.14 298.46,1781.74 300.36,1754.98 302.25,1738.37 304.14,1730.06 306.04,1745.75 307.94,1741.14 309.83,1730.06 311.73,1715.3 313.62,1728.22 315.51,1747.6 317.41,1750.37 319.31,1745.75 321.2,1760.52 323.1,1754.98 324.99,1764.21 326.88,1787.28 328.78,1774.36 330.68,1819.58 332.57,1851.87 334.46,1844.49 336.36,1845.41" fill="none" stroke="#111" stroke-width="1.0" stroke-linejoin="round"/><polyline points="351.5,1826.96 353.39,1821.42 355.29,1807.58 357.18,1809.43 359.08,1773.44 360.97,1754.98 362.87,1777.13 364.76,1759.59 366.66,1765.13 368.55,1748.52 370.45,1750.37 372.34,1728.22 374.24,1732.83 376.13,1731.91 378.03,1738.37 379.92,1766.98 381.82,1757.75 383.71,1778.05 385.61,1772.51 387.5,1788.2 389.4,1790.05 391.29,1802.04 393.19,1813.12 395.08,1826.04 396.98,1868.48" fill="none" stroke="#111" stroke-width="1.0" stroke-linejoin="round"/><polyline points="412.12,1760.52 414.01,1745.75 415.91,1742.98 417.8,1741.14 419.7,1786.36 421.59,1747.6 423.49,1766.05 425.38,1751.29 427.28,1752.21 429.17,1708.84 431.07,1680.23 432.96,1675.62 434.86,1683.92 436.75,1706.07 438.65,1730.06 440.54,1739.29 442.44,1740.22 444.33,1731.91 446.23,1758.67 448.12,1759.59 450.02,1808.5 451.91,1818.65 453.81,1791.89 455.7,1799.27 457.6,1853.72" fill="none" stroke="#111" stroke-width="1.0" stroke-linejoin="round"/><polyline points="472.74,1823.27 474.63,1787.28 476.53,1766.05 478.42,1796.51 480.32,1729.14 482.21,1752.21 484.11,1730.06 486,1751.29 487.9,1758.67 489.79,1754.06 491.69,1739.29 493.58,1686.69 495.48,1742.98 497.37,1732.83 499.27,1734.68 501.16,1738.37 503.06,1716.22 504.95,1753.13 506.85,1756.83 508.74,1802.97 510.64,1802.04 512.53,1838.03 514.43,1823.27 516.32,1825.11 518.22,1815.88" fill="none" stroke="#111" stroke-width="1.0" stroke-linejoin="round"/><polyline points="533.36,1827.88 535.25,1848.18 537.15,1804.81 539.04,1775.28 540.94,1761.44 542.84,1732.83 544.73,1721.76 546.62,1694.08 548.52,1744.83 550.41,1761.44 552.31,1730.06 554.21,1743.91 556.1,1731.91 558,1719.91 559.89,1727.3 561.78,1715.3 563.68,1750.37 565.58,1752.21 567.47,1766.98 569.37,1776.2 571.26,1757.75 573.15,1773.44 575.05,1777.13 576.95,1821.42 578.84,1863.87" fill="none" stroke="#111" stroke-width="1.0" stroke-linejoin="round"/><polyline points="593.98,1773.44 595.87,1808.5 597.77,1800.2 599.66,1745.75 601.56,1731.91 603.45,1738.37 605.35,1709.76 607.24,1695.92 609.14,1690.38 611.03,1687.62 612.93,1734.68 614.82,1711.61 616.72,1736.52 618.61,1731.91 620.51,1754.06 622.4,1765.13 624.3,1775.28 626.19,1765.13 628.09,1800.2 629.98,1808.5 631.88,1797.43 633.77,1788.2 635.67,1816.81 637.56,1833.42 639.46,1812.19" fill="none" stroke="#111" stroke-width="1.0" stroke-linejoin="round"/><text transform="translate(15.2 1778) rotate(-90)" font-family="'Liberation Serif', serif" font-size="14.1" text-anchor="middle" fill="#000">Weekly rainfall (mm)</text><text transform="translate(675.0 1777.5) rotate(-90)" font-family="'Liberation Serif', serif" font-size="14.65" text-anchor="middle" fill="#000">Weekly average temperature (°C)</text><g font-family="'Liberation Serif', serif" font-size="12.4" text-anchor="middle" fill="#000"><text x="74.3" y="1912.6">2012</text><text x="135.1" y="1912.6">2013</text><text x="192.8" y="1912.6">2014</text><text x="250.6" y="1912.6">2015</text><text x="312.1" y="1912.6">2016</text><text x="373.6" y="1912.6">2017</text><text x="438.1" y="1912.6">2018</text><text x="492.4" y="1912.6">2019</text><text x="554.1" y="1912.6">2020</text><text x="615.3" y="1912.6">2021</text></g><text x="339" y="1936.5" font-family="'Liberation Serif', serif" font-size="14.1" text-anchor="middle" fill="#000">Year (weeks 19–43)</text><rect x="237.3" y="1950" width="13.6" height="7" fill="#3a86d6"/><text x="252.5" y="1957.3" font-family="'Liberation Serif', serif" font-size="14.2" fill="#000">Rainfall</text><line x1="313.8" y1="1952.8" x2="327.8" y2="1952.8" stroke="#000" stroke-width="1.2"/><text x="329.5" y="1957.3" font-family="'Liberation Serif', serif" font-size="14.3" fill="#000">Average temperature</text></svg>
</body></html>
